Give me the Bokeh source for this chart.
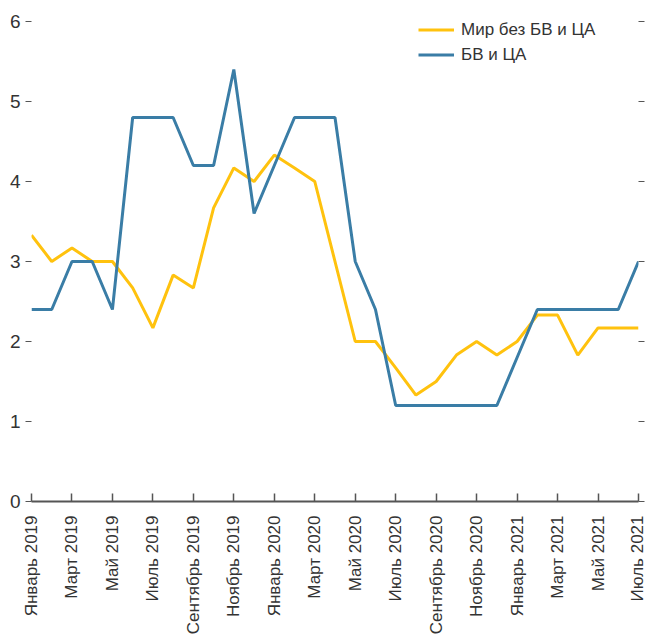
import numpy as np
from bokeh.plotting import figure
from bokeh.models import Range1d, LinearAxis, FixedTicker, Legend, LegendItem
from bokeh.embed import file_html
from bokeh.resources import INLINE

months = [
    "Январь 2019", "Февраль 2019", "Март 2019", "Апрель 2019", "Май 2019", "Июнь 2019",
    "Июль 2019", "Август 2019", "Сентябрь 2019", "Октябрь 2019", "Ноябрь 2019", "Декабрь 2019",
    "Январь 2020", "Февраль 2020", "Март 2020", "Апрель 2020", "Май 2020", "Июнь 2020",
    "Июль 2020", "Август 2020", "Сентябрь 2020", "Октябрь 2020", "Ноябрь 2020", "Декабрь 2020",
    "Январь 2021", "Февраль 2021", "Март 2021", "Апрель 2021", "Май 2021", "Июнь 2021",
    "Июль 2021",
]
world_ex = [3.33, 3.0, 3.17, 3.0, 3.0, 2.67, 2.17, 2.83, 2.67, 3.67, 4.17, 4.0,
            4.33, 4.17, 4.0, 3.0, 2.0, 2.0, 1.67, 1.33, 1.5, 1.83, 2.0, 1.83,
            2.0, 2.33, 2.33, 1.83, 2.17, 2.17, 2.17]
mena_ca = [2.4, 2.4, 3.0, 3.0, 2.4, 4.8, 4.8, 4.8, 4.2, 4.2, 5.4, 3.6,
           4.2, 4.8, 4.8, 4.8, 3.0, 2.4, 1.2, 1.2, 1.2, 1.2, 1.2, 1.2,
           1.8, 2.4, 2.4, 2.4, 2.4, 2.4, 3.0]
series_names = ["Мир без БВ и ЦА", "БВ и ЦА"]
y_ticks = [0, 1, 2, 3, 4, 5, 6]

YELLOW = "#FFC20E"
BLUE = "#3A7DA6"
FONT = "Liberation Sans"
TXT = "#333333"

x = list(range(len(months)))
tick_idx = x[::2]

p = figure(width=646, height=637, output_backend="svg", toolbar_location=None,
           x_range=Range1d(0, len(months) - 1), y_range=Range1d(0, 6),
           min_border_left=31, min_border_top=21, min_border_right=8, min_border_bottom=136)
p.outline_line_color = None
p.xgrid.visible = False
p.ygrid.visible = False
p.background_fill_color = "white"
p.border_fill_color = "white"

r1 = p.line(x, world_ex, line_color=YELLOW, line_width=3)
r2 = p.line(x, mena_ca, line_color=BLUE, line_width=3)

# x axis
xa = p.xaxis[0]
xa.ticker = FixedTicker(ticks=tick_idx)
xa.major_label_overrides = {i: months[i] for i in tick_idx}
xa.major_label_orientation = np.pi / 2
xa.major_tick_in = 8
xa.major_tick_out = 0
xa.minor_tick_in = 0
xa.minor_tick_out = 0
xa.axis_line_color = "#555555"
xa.axis_line_width = 2
xa.major_tick_line_color = "#555555"
xa.major_tick_line_width = 1.5
xa.major_label_standoff = 14
xa.major_label_text_font = FONT
xa.major_label_text_font_size = "17px"
xa.major_label_text_color = TXT

# left y axis
ya = p.yaxis[0]
ya.ticker = FixedTicker(ticks=y_ticks)
ya.axis_line_color = None
ya.major_tick_in = 0
ya.major_tick_out = 6
ya.minor_tick_in = 0
ya.minor_tick_out = 0
ya.major_tick_line_color = "#555555"
ya.major_label_standoff = 5
ya.major_label_text_font = FONT
ya.major_label_text_font_size = "19px"
ya.major_label_text_color = TXT

# right y axis (ticks only)
ra = LinearAxis(ticker=FixedTicker(ticks=y_ticks))
ra.axis_line_color = None
ra.major_tick_in = 0
ra.major_tick_out = 6
ra.minor_tick_in = 0
ra.minor_tick_out = 0
ra.major_tick_line_color = "#555555"
ra.major_label_overrides = {t: "" for t in y_ticks}
ra.major_label_standoff = 0
p.add_layout(ra, "right")

legend = Legend(items=[LegendItem(label=series_names[0], renderers=[r1]),
                       LegendItem(label=series_names[1], renderers=[r2])],
                location=(387, 434))
legend.padding = 0
legend.margin = 0
legend.spacing = 0
legend.border_line_color = None
legend.background_fill_alpha = 0
legend.glyph_width = 36
legend.glyph_height = 25
legend.label_height = 25
legend.label_standoff = 7
legend.label_text_font = FONT
legend.label_text_font_size = "17px"
legend.label_text_color = TXT
p.add_layout(legend, "center")

open("out.html", "w").write(file_html(p, INLINE))
